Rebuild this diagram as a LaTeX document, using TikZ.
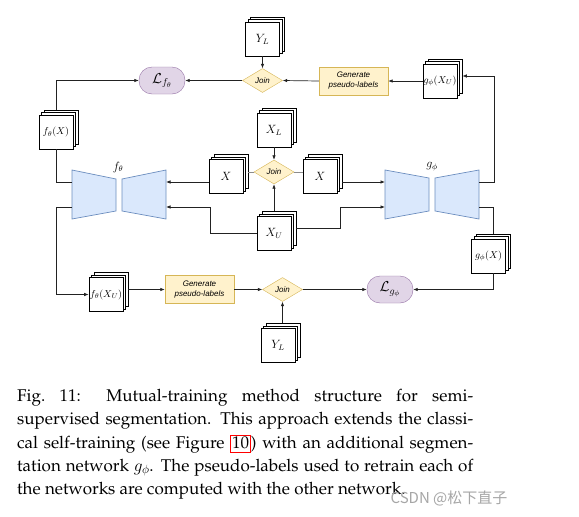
\documentclass[tikz,border=0pt]{standalone}
\usepackage[T1]{fontenc}
\usepackage{fontspec}
\usetikzlibrary{arrows.meta,shadows,shapes.geometric,calc}
\newfontfamily\helv{Liberation Sans}
\newfontfamily\cjk{Noto Sans CJK SC}
\definecolor{netfill}{HTML}{DAE8FC}
\definecolor{netline}{HTML}{6C8EBF}
\definecolor{joinfill}{HTML}{FFF2CC}
\definecolor{joinline}{HTML}{D6B656}
\definecolor{lossfill}{HTML}{E1D5E7}
\definecolor{lossline}{HTML}{9673A6}
\definecolor{wirecol}{HTML}{222222}

\begin{document}
\begin{tikzpicture}[x=1pt,y=-1pt,
stack/.style={draw,fill=white,line width=.7pt,minimum width=34pt,minimum height=34pt,inner sep=0pt,
copy shadow={shadow xshift=5pt,shadow yshift=5pt,draw,fill=white,line width=.7pt},
copy shadow={shadow xshift=2.5pt,shadow yshift=2.5pt,draw,fill=white,line width=.7pt},
font=\fontsize{12}{14}\selectfont},
lbl/.style={font=\fontsize{10}{12}\selectfont},
joinbox/.style={diamond,draw=joinline,fill=joinfill,aspect=1.7,minimum width=40pt,minimum height=24pt,
inner sep=0pt,font=\helv\itshape\fontsize{8}{9}\selectfont},
gen/.style={draw=joinline,fill=joinfill,minimum width=69pt,minimum height=28pt,inner sep=0pt,align=center,
font=\helv\itshape\fontsize{8}{10}\selectfont},
loss/.style={draw=lossline,fill=lossfill,rounded corners=13pt,minimum width=46pt,minimum height=27pt,
inner sep=0pt,font=\fontsize{14}{16}\selectfont},
net/.style={draw=netline,fill=netfill,line width=.7pt},
arr/.style={-{Latex[length=4.5pt,width=3.5pt]},draw=wirecol,line width=.7pt},
wire/.style={draw=wirecol,line width=.7pt},
tie/.style={draw=black!45,line width=.7pt}]
\useasboundingbox[fill=white] (0,0) rectangle (579,517);
\draw[net] (72,170) -- (116,179) -- (116,211) -- (72,219) -- cycle;
\draw[net] (122,179) -- (166,170) -- (166,219) -- (122,211) -- cycle;
\draw[net] (385,170) -- (429,178) -- (429,211) -- (385,219) -- cycle;
\draw[net] (435,178) -- (479,170) -- (479,219) -- (435,211) -- cycle;
\coordinate (fl1) at (72,182); \coordinate (fl2) at (72,207);
\coordinate (fr1) at (166,182); \coordinate (fr2) at (166,207);
\coordinate (gl1) at (385,182); \coordinate (gl2) at (385,207);
\coordinate (gr1) at (479,182); \coordinate (gr2) at (479,207);
\node (nf) at (118,167) {\fontsize{12}{14}\selectfont$f_\theta$};
\node (ng) at (432,167) {\fontsize{12}{14}\selectfont$g_\phi$};

\node[stack] (ylt) at (262.5,39) {$Y_L$};
\node[joinbox] (jt) at (262.5,80.5) {Join};
\node[loss] (lf) at (162,80.5) {$\mathcal{L}_{f_\theta}$};
\node[gen] (gt) at (353.5,81) {Generate\\pseudo-labels};
\node[stack,lbl] (gxu) at (440,81) {$g_\phi(X_U)$};
\node[stack,lbl] (fx) at (56,132) {$f_\theta(X)$};
\node[stack] (xl) at (274,130) {$X_L$};
\node[stack] (xa) at (226,176.5) {$X$};
\node[joinbox] (jm) at (274,172) {Join};
\node[stack] (xb) at (320,176.5) {$X$};
\node[stack] (xu) at (274,233.5) {$X_U$};
\node[stack,lbl] (gx) at (488.5,256) {$g_\phi(X)$};
\node[stack,lbl] (fxu) at (106,294.5) {$f_\theta(X_U)$};
\node[gen] (gb) at (199.5,289.5) {Generate\\pseudo-labels};
\node[joinbox] (jb) at (282.5,289.5) {Join};
\node[stack] (ylb) at (278,345.5) {$Y_L$};
\node[loss] (lg) at (390,289.5) {$\mathcal{L}_{g_\phi}$};

\draw[arr] (ylt.south) -- (jt.north); \draw[arr] (jt.west) -- (lf.east);
\draw[arr] (gt.west) -- (jt.east); \draw[arr] (gxu.west) -- (gt.east);
\draw[arr] ([yshift=5pt]fx.north) |- (lf.west); \draw[wire] (fl1) -| (fx.south);
\draw[arr] (fl2) -- ++(-16,0) |- (fxu.west);
\draw[arr] (xl.south) -- (jm.north); \draw[arr] ([yshift=5pt]xu.north) -- (jm.south);
\draw[tie] (jm.west) -- ($(jm.west -| xa.east)+(5,0)$); \draw[tie] (jm.east) -- (jm.east -| xb.west);
\draw[arr] (xa.west |- fr1) -- (fr1); \draw[arr] (xu.west) -- ++(-46,0) |- (fr2);
\draw[arr] ($(xb.east |- gl1)+(5,0)$) -- (gl1); \draw[arr] ($(xu.east)+(5,-5)$) -- ++(44,0) |- (gl2);
\draw[arr] (gr1) -- ++(15,0) |- ($(gxu.east)+(5,-5)$);
\draw[wire] (gr2) -| ($(gx.north)+(5,-5)$);
\draw[arr] ($(gx.south)+(5,0)$) |- (lg.east);
\draw[arr] ($(fxu.east)+(5,-5)$) -- (gb.west); \draw[arr] (gb.east) -- (jb.west);
\draw[arr] (jb.east) -- (lg.west); \draw[arr] ($(ylb.north)+(4.5,-5)$) -- (jb.south);

\node[anchor=north west,text width=456pt,align=justify,inner sep=0pt,
font=\fontencoding{T1}\fontfamily{ppl}\fontsize{17}{23.3}\selectfont] (cap) at (17,389)
{Fig.~11: Mutual-training method structure for semi-\linebreak
supervised segmentation. This approach extends the classi-\linebreak
cal self-training (see Figure \setlength\fboxsep{1pt}\setlength\fboxrule{.8pt}\fcolorbox{red}{white}{\rule[-3pt]{0pt}{14pt}10}) with an additional segmen-\linebreak
tation network $g_\phi$. The pseudo-labels used to retrain each of\linebreak
the networks are computed with the other network.};
\node[font=\cjk\fontsize{15}{17}\selectfont,text=black!35] (wm) at (449,498) {CSDN @松下直子};
\end{tikzpicture}
\end{document}
